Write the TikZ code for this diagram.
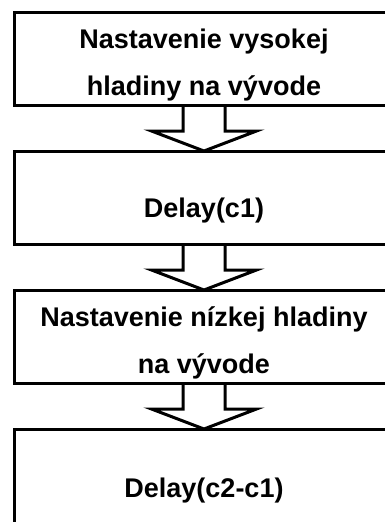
\documentclass[tikz,border=0pt]{standalone}
\usepackage{fontspec}
\setmainfont{Liberation Sans}
\usetikzlibrary{calc}

% hollow block arrow from the bottom of one box to the top of the next
\newcommand\flowarrow[2]{%
  \draw[block arrow]
    ($(#1.south)+(-21,0)$) -- ++(0,26) -- ++(-31.5,0) -- (#2.north)
    -- ($(#1.south)+(52.5,26)$) -- ++(-31.5,0) -- ($(#1.south)+(21,0)$);}

\begin{document}
\begin{tikzpicture}[x=1pt,y=-1pt,
  stepbox/.style={draw,line width=3pt,rectangle,minimum width=380pt,
    minimum height=93pt,inner sep=0pt,outer sep=0pt,anchor=north west},
  steptext/.style={font=\bfseries\fontsize{27}{47}\selectfont,
    align=center,anchor=base,inner sep=0pt},
  block arrow/.style={draw,line width=3pt,line join=miter}]
\useasboundingbox (0,0) rectangle (385,522);

% process steps
\node[stepbox] (b1) at (14,12) {};
\node[stepbox] (b2) at (14,151) {};
\node[stepbox] (b3) at (14,290) {};
\node[stepbox,minimum height=130pt] (b4) at (14,429) {};

% step labels (base anchor sits on the last line's baseline)
\node[steptext] (t1) at (204,95) {Nastavenie vysokej\\hladiny na vývode};
\node[steptext] (t2) at (204,217) {Delay(c1)};
\node[steptext] (t3) at (204,373) {Nastavenie nízkej hladiny\\na vývode};
\node[steptext] (t4) at (204,497) {Delay(c2-c1)};

% flow between steps
\flowarrow{b1}{b2}
\flowarrow{b2}{b3}
\flowarrow{b3}{b4}
\end{tikzpicture}
\end{document}
